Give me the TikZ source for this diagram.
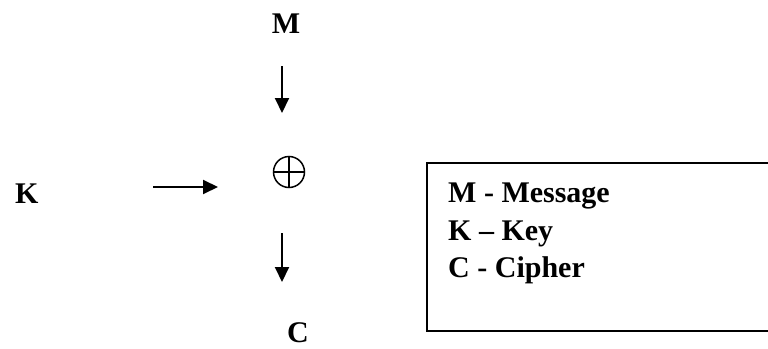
\documentclass[tikz,border=0pt]{standalone}
\usepackage{fontspec}
\setmainfont{Liberation Serif}
\usetikzlibrary{arrows.meta}
\tikzset{
  lbl/.style={font=\fontsize{30}{36}\selectfont\bfseries, inner sep=0pt, anchor=base},
  arr/.style={line width=2pt, -{Triangle[length=15pt,width=14pt]}},
  xorsym/.style={circle, draw, line width=1.5pt, minimum size=31pt, inner sep=0pt,
    path picture={\draw[line width=1.5pt]
      (path picture bounding box.north) -- (path picture bounding box.south)
      (path picture bounding box.west) -- (path picture bounding box.east);}},
  frame/.style={line width=2pt}
}
\begin{document}
\begin{tikzpicture}[x=1pt,y=-1pt]
\useasboundingbox (0,0) rectangle (768,348);

% inputs, output and the XOR gate
\node[lbl] (M) at (286,33) {M};
\node[lbl, anchor=base west] (K) at (15,203) {K};
\node[xorsym] (xor) at (289,172) {};
\node[lbl] (C) at (298,342) {C};

% arrow endpoints
\coordinate (m1) at (282,66);
\coordinate (m2) at (282,113);
\coordinate (k1) at (153,187);
\coordinate (k2) at (218,187);
\coordinate (c1) at (282,233);
\coordinate (c2) at (282,282);

\draw[arr] (m1) -- (m2);
\draw[arr] (k1) -- (k2);
\draw[arr] (c1) -- (c2);

% legend frame (open on the right)
\draw[frame] (770,163) -- (427,163) -- (427,331) -- (770,331);
\node[lbl, anchor=base west] (lm) at (448,202) {M - Message};
\node[lbl, anchor=base west] (lk) at (448,240) {K – Key};
\node[lbl, anchor=base west] (lc) at (448,277) {C - Cipher};
\end{tikzpicture}
\end{document}
